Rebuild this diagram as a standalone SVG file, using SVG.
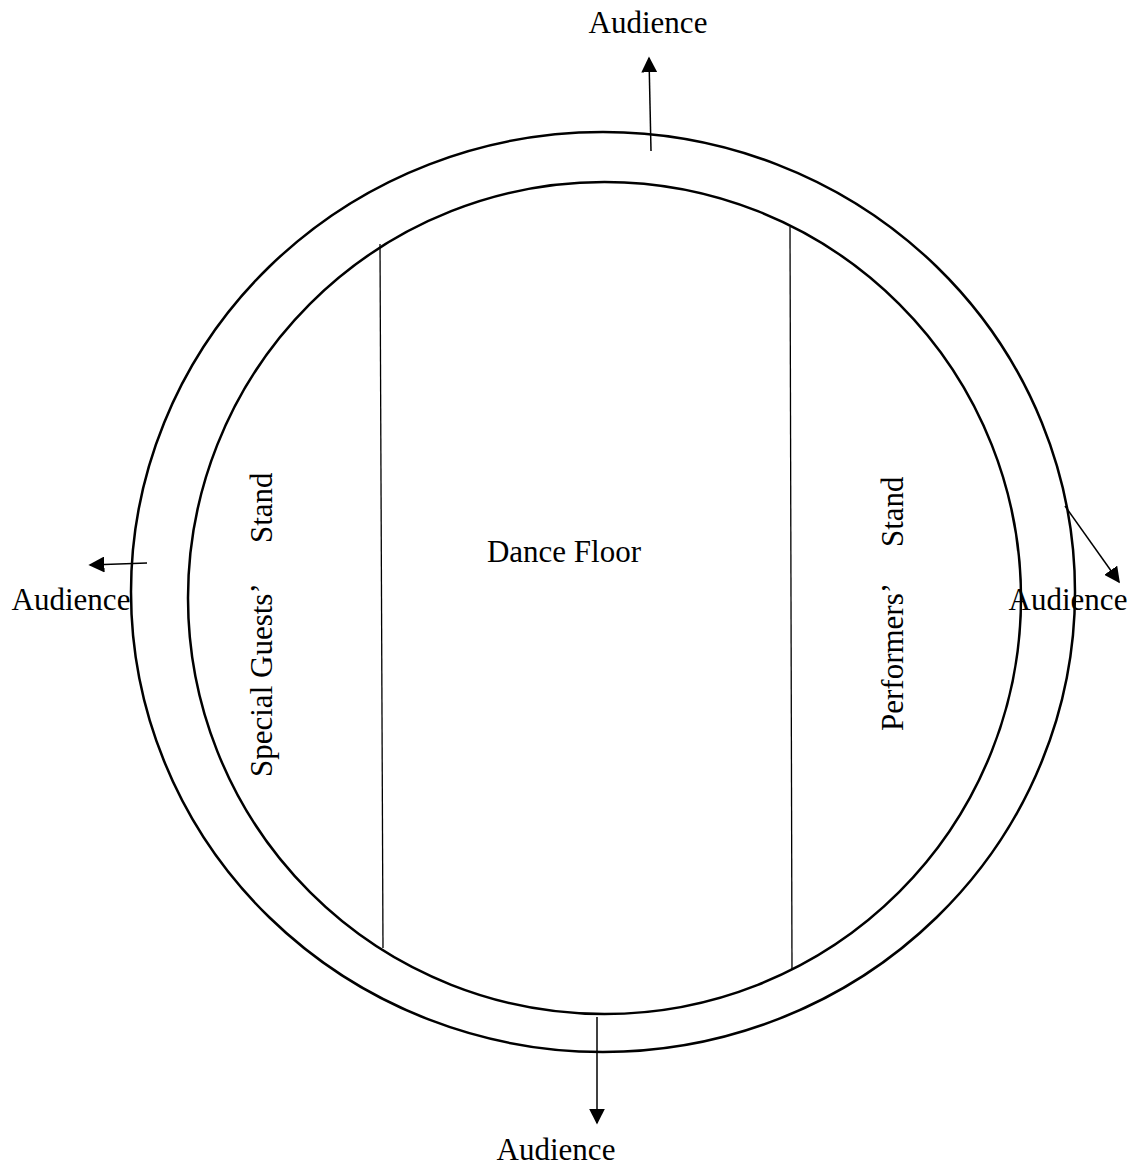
<svg xmlns="http://www.w3.org/2000/svg" width="1141" height="1167" viewBox="0 0 1141 1167">
<style>
.t{font-family:"Liberation Serif","Times New Roman",serif;font-size:31px;fill:#000}
.ring{fill:none;stroke:#000;stroke-width:2.5}
.div{stroke:#000;stroke-width:1.3}
.arr{stroke:#000;stroke-width:1.5;fill:none;marker-end:url(#ah)}
</style>
<defs>
<marker id="ah" viewBox="0 0 10 10" refX="9" refY="5" markerWidth="16" markerHeight="16" markerUnits="userSpaceOnUse" orient="auto">
<path d="M0,0 L10,5 L0,10 Z" fill="#000"/>
</marker>
</defs>
<rect width="1141" height="1167" fill="#fff"/>
<g id="outer-ring"><ellipse class="ring" cx="603" cy="592" rx="472" ry="460"/></g>
<g id="inner-ring"><ellipse class="ring" cx="604.5" cy="598" rx="416.5" ry="416"/></g>
<g id="dividers">
<line class="div" x1="380" y1="244" x2="383" y2="948"/>
<line class="div" x1="790" y1="227" x2="792" y2="969"/>
</g>
<g id="connectors">
<line class="arr" x1="651" y1="151" x2="649" y2="58"/>
<line class="arr" x1="147" y1="563" x2="90" y2="565"/>
<line class="arr" x1="1065" y1="506" x2="1119" y2="582"/>
<line class="arr" x1="597" y1="1017" x2="597" y2="1123"/>
</g>
<g id="dance-floor"><text class="t" x="564" y="562" text-anchor="middle">Dance Floor</text></g>
<g id="special-guests"><text class="t" transform="translate(272,777) rotate(-90)"><tspan x="0">Special Guests’</tspan><tspan x="234">Stand</tspan></text></g>
<g id="performers"><text class="t" transform="translate(903,731) rotate(-90)"><tspan x="0">Performers’</tspan><tspan x="184">Stand</tspan></text></g>
<g id="aud-top"><text class="t" x="648" y="33" text-anchor="middle">Audience</text></g>
<g id="aud-left"><text class="t" x="71" y="610" text-anchor="middle">Audience</text></g>
<g id="aud-right"><text class="t" x="1068" y="610" text-anchor="middle">Audience</text></g>
<g id="aud-bottom"><text class="t" x="556" y="1160" text-anchor="middle">Audience</text></g>
</svg>
